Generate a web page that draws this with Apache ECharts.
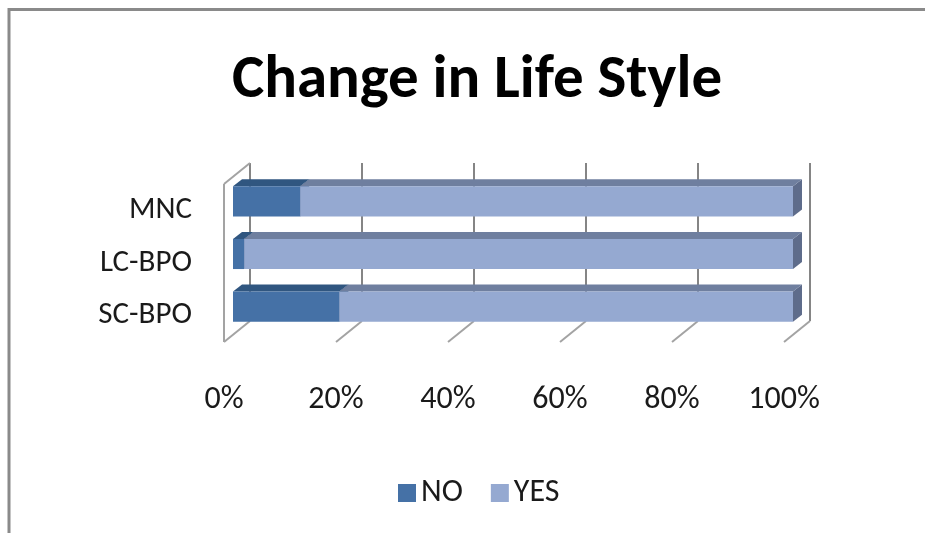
<!DOCTYPE html>
<html>
<head>
<meta charset="utf-8">
<title>Change in Life Style</title>
<script src="https://cdn.jsdelivr.net/npm/echarts@6/dist/echarts.min.js"></script>
<style>
  html, body { margin: 0; padding: 0; background: #ffffff; }
  #chart { width: 925px; height: 533px; }
</style>
</head>
<body>
<div id="chart"></div>
<script>
// Organisation types, top to bottom
const categories = ['MNC', 'LC-BPO', 'SC-BPO'];
// Share of respondents (%) answering NO / YES
const noValues = [12, 2, 19];
const yesValues = [88, 98, 81];
// Percentage ticks along the value axis
const tickValues = [0, 20, 40, 60, 80, 100];
const seriesNames = ['NO', 'YES'];

const FONT = 'Carlito, Calibri, Lato, sans-serif';

// 3D look: bar depth and back-wall offset (pixels)
const BAR_SHIFT = [9, -9];   // front face of bars relative to the floor front edge
const BAR_DEPTH = [9, -7];   // depth of each bar
const WALL_DEPTH = [26, -21]; // depth of floor / side wall

const palette = {
  NO:  { front: '#4571a6', top: '#305680', side: '#2d4e76' },
  YES: { front: '#95a9d1', top: '#6f7f9f', side: '#5e6c8b' }
};

function barRenderer(name) {
  const c = palette[name];
  return function (params, api) {
    const start = api.value(0), end = api.value(1), cat = api.value(2);
    const p0 = api.coord([start, cat]);
    const p1 = api.coord([end, cat]);
    const band = api.size([0, 1])[1];
    const h = band / 1.75;
    const x0 = p0[0] + BAR_SHIFT[0], x1 = p1[0] + BAR_SHIFT[0];
    const yc = p0[1] + BAR_SHIFT[1];
    const yt = yc - h / 2, yb = yc + h / 2;
    const dx = BAR_DEPTH[0], dy = BAR_DEPTH[1];
    return {
      type: 'group',
      children: [
        { type: 'polygon', shape: { points: [[x1, yt], [x1 + dx, yt + dy], [x1 + dx, yb + dy], [x1, yb]] },
          style: { fill: c.side } },
        { type: 'polygon', shape: { points: [[x0, yt], [x1, yt], [x1 + dx, yt + dy], [x0 + dx, yt + dy]] },
          style: { fill: c.top } },
        { type: 'rect', shape: { x: x0, y: yt, width: x1 - x0, height: h },
          style: { fill: c.front } }
      ]
    };
  };
}

function frameRenderer(params, api) {
  const cs = params.coordSys;
  const v = api.value(0);
  const x = api.coord([v, 0])[0];
  const top = cs.y, bottom = cs.y + cs.height;
  const dx = WALL_DEPTH[0], dy = WALL_DEPTH[1];
  const grid = { stroke: '#858585', lineWidth: 2 };
  const wall = { stroke: '#a3a3a3', lineWidth: 2 };
  const children = [
    { type: 'line', shape: { x1: x + dx, y1: top + dy, x2: x + dx, y2: bottom + dy }, style: grid },
    { type: 'line', shape: { x1: x + dx, y1: bottom + dy, x2: x, y2: bottom }, style: wall }
  ];
  if (v === tickValues[0]) {
    children.push({ type: 'line', shape: { x1: x, y1: top, x2: x, y2: bottom }, style: wall });
    children.push({ type: 'line', shape: { x1: x, y1: top, x2: x + dx, y2: top + dy }, style: wall });
  }
  return { type: 'group', children: children };
}

const noData = categories.map((c, i) => [0, noValues[i], i]);
const yesData = categories.map((c, i) => [noValues[i], noValues[i] + yesValues[i], i]);

const chart = echarts.init(document.getElementById('chart'), null, { renderer: 'canvas' });
chart.setOption({
  animation: false,
  backgroundColor: '#ffffff',
  title: {
    text: 'Change in Life Style',
    left: 472,
    textAlign: 'center',
    top: 46,
    textStyle: { fontFamily: FONT, fontWeight: 'bold', fontSize: 61, color: '#000000' }
  },
  graphic: [{
    type: 'polyline',
    shape: { points: [[9, 533], [9, 9.5], [925, 9.5]] },
    style: { stroke: '#8a8a8a', lineWidth: 3, fill: null },
    silent: true
  }],
  legend: {
    data: seriesNames,
    left: 393,
    top: 472,
    itemWidth: 18,
    itemHeight: 18,
    itemGap: 28,
    icon: 'rect',
    textStyle: { fontFamily: FONT, fontSize: 32, color: '#1a1a1a' }
  },
  grid: { left: 224, top: 184, width: 560, height: 158, containLabel: false },
  xAxis: {
    type: 'value',
    min: 0,
    max: 100,
    interval: 20,
    axisLine: { show: false },
    axisTick: { show: false },
    splitLine: { show: false },
    axisLabel: { formatter: '{value}%', margin: 42, fontFamily: FONT, fontSize: 32, color: '#1a1a1a' }
  },
  yAxis: {
    type: 'category',
    data: categories,
    inverse: true,
    axisLine: { show: false },
    axisTick: { show: false },
    splitLine: { show: false },
    axisLabel: { margin: 32, fontFamily: FONT, fontSize: 31, color: '#1a1a1a' }
  },
  series: [
    {
      type: 'custom',
      name: 'frame',
      silent: true,
      z: 1,
      data: tickValues.map(v => [v]),
      encode: { x: 0 },
      renderItem: frameRenderer
    },
    {
      type: 'custom',
      name: 'NO',
      z: 2,
      itemStyle: { color: palette.NO.front },
      data: noData,
      encode: { x: [0, 1], y: 2 },
      renderItem: barRenderer('NO')
    },
    {
      type: 'custom',
      name: 'YES',
      z: 3,
      itemStyle: { color: palette.YES.front },
      data: yesData,
      encode: { x: [0, 1], y: 2 },
      renderItem: barRenderer('YES')
    }
  ]
});
</script>
</body>
</html>
